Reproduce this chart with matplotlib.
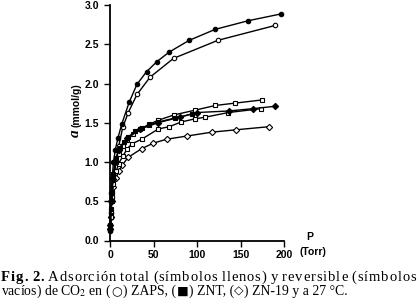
import matplotlib
matplotlib.use("Agg")
import matplotlib.pyplot as plt
from matplotlib.font_manager import FontProperties

# ---- data ----
zaps_tot_p = [0.3, 0.8, 1.5, 2.5, 4, 6, 9, 13.4, 22, 31, 42, 54, 68, 91, 121, 159, 196]
zaps_tot_a = [0.12, 0.35, 0.6, 0.8, 1.0, 1.15, 1.3, 1.48, 1.76, 1.99, 2.15, 2.28, 2.40, 2.55, 2.69, 2.80, 2.885]

zaps_rev_p = [0.5, 1, 2, 4, 7, 10, 14.6, 21, 31, 46, 73, 124, 190]
zaps_rev_a = [0.15, 0.3, 0.55, 0.8, 1.0, 1.2, 1.44, 1.63, 1.86, 2.08, 2.32, 2.55, 2.74]

znt_tot_p = [0.3, 1, 2, 4, 7, 11, 16, 21, 28.7, 36.4, 45, 55.5, 74.7, 94]
znt_tot_a = [0.15, 0.4, 0.62, 0.85, 1.05, 1.18, 1.26, 1.32, 1.39, 1.43, 1.47, 1.51, 1.56, 1.61]

znt_up_p = [0.5, 1, 2, 4, 7, 10, 15, 20, 27, 35, 45, 55, 73.6, 97.7, 121, 143.7, 174.4]
znt_up_a = [0.2, 0.38, 0.6, 0.82, 1.0, 1.1, 1.2, 1.28, 1.36, 1.42, 1.48, 1.53, 1.60, 1.66, 1.72, 1.75, 1.79]

znt_rev_p = [0.5, 1, 2, 4, 7, 10, 15, 20, 25, 36.4, 55.5, 68, 82, 97.7, 109, 136, 174]
znt_rev_a = [0.15, 0.3, 0.5, 0.72, 0.88, 0.98, 1.08, 1.17, 1.23, 1.29, 1.42, 1.45, 1.51, 1.55, 1.57, 1.63, 1.68]

zn19_tot_p = [0.5, 1.5, 3, 6, 10, 20, 35, 55, 80, 99.6, 136.8, 164.7, 190]
zn19_tot_a = [0.2, 0.5, 0.78, 1.0, 1.15, 1.3, 1.42, 1.5, 1.57, 1.63, 1.65, 1.68, 1.71]

zn19_rev_p = [0.5, 1, 2, 4, 7, 10, 14, 21, 36.4, 49.8, 65, 88, 117, 144.5, 183]
zn19_rev_a = [0.15, 0.3, 0.5, 0.68, 0.8, 0.88, 0.96, 1.06, 1.17, 1.24, 1.29, 1.33, 1.38, 1.41, 1.45]

x_ticks = [0, 50, 100, 150, 200]
y_ticks = [0.0, 0.5, 1.0, 1.5, 2.0, 2.5, 3.0]

caption_line1 = ["Fig.", "2.", "Adsorción", "total", "(símbolos", "llenos)", "y",
                 "reversible", "(símbolos"]
caption_line2 = [("vacíos) de CO$_2$ en (", 'serif'), ("○", 'sym'), (") ZAPS, (", 'serif'),
                 ("■", 'sym'), (") ZNT, (", 'serif'), ("◇", 'sym'),
                 (") ZN-19 y a 27 °C.", 'serif')]

plt.rcParams['mathtext.fontset'] = 'stix'

W, H = 419, 306
fig = plt.figure(figsize=(W / 100, H / 100), dpi=100)
ax = fig.add_axes([110 / W, 1 - 240.5 / H, 174 / W, 235.5 / H])

ms = 3.2
lw = 1.0
def plot(p, a, marker, filled):
    ax.plot(p, a, color='black', lw=lw, marker=marker, ms=ms,
            mfc='black' if filled else 'white', mec='black', mew=0.8,
            clip_on=False)

plot(zaps_rev_p, zaps_rev_a, 'o', False)
plot(zaps_tot_p, zaps_tot_a, 'o', True)
plot(zn19_rev_p, zn19_rev_a, 'D', False)
plot(znt_rev_p, znt_rev_a, 's', False)
plot(znt_up_p, znt_up_a, 's', False)
plot(zn19_tot_p, zn19_tot_a, 'D', True)
plot(znt_tot_p, znt_tot_a, 's', True)

ax.set_xlim(0, 200)
ax.set_ylim(0, 3.0)
ax.set_xticks(x_ticks)
ax.set_yticks(y_ticks)
ax.set_xticklabels([str(v) for v in x_ticks])
ax.set_yticklabels([f"{v:.1f}" for v in y_ticks])
for s in ['top', 'right']:
    ax.spines[s].set_visible(False)
for s in ['left', 'bottom']:
    ax.spines[s].set_linewidth(1.3)
ax.tick_params(direction='out', length=4, width=1.0, labelsize=7.5)
ax.tick_params(axis='x', pad=2.5)
ax.tick_params(axis='y', pad=4)
for lab in ax.get_xticklabels() + ax.get_yticklabels():
    lab.set_fontweight('bold')
    lab.set_family('Liberation Sans')

# y label: italic bold "a" + "(mmol/g)"
fig.text(76 / W, 1 - 105 / H, "(mmol/g)", rotation=90, ha='center', va='center',
         fontsize=7.5, fontweight='bold', family='Liberation Sans')
fig.text(75 / W, 1 - 133 / H, "a", rotation=90, ha='center', va='center',
         fontsize=11, fontweight='bold', style='italic', family='Liberation Serif')

# x label
fig.text(310 / W, 1 - 237 / H, "P", ha='center', va='center',
         fontsize=7.5, fontweight='bold', family='Liberation Sans')
fig.text(313 / W, 1 - 252 / H, "(Torr)", ha='center', va='center',
         fontsize=7.5, fontweight='bold', family='Liberation Sans')

# caption
fig.canvas.draw()
r = fig.canvas.get_renderer()
fs = 10.5
y1 = 1 - 281 / H
y2 = 1 - 295 / H

def twidth(s, prop):
    if not s:
        return 0.0
    w, h, d = r.get_text_width_height_descent(s, prop, ismath=False)
    return w

prop_b = FontProperties(family='Liberation Serif', weight='bold', size=fs)
prop_r = FontProperties(family='Liberation Serif', size=fs)

# line 1, justified between x=1 and x=416 px with letter spacing
left, right = 1.0, 416.0
space = 3.3
props = [prop_b if i < 2 else prop_r for i in range(len(caption_line1))]
ww = [twidth(w, p) for w, p in zip(caption_line1, props)]
base = sum(ww) + (len(caption_line1) - 1) * space
count = sum(len(w) - 1 for w in caption_line1) + (len(caption_line1) - 1)
ls = (right - left - base) / count
x = left
for w, p, wd in zip(caption_line1, props, ww):
    for k, ch in enumerate(w):
        px = x + twidth(w[:k], p) + k * ls
        fig.text(px / W, y1, ch, ha='left', va='baseline', fontproperties=p)
    x += wd + (len(w) - 1) * ls + space + ls

# line 2, sequence of segments
fs2 = 9.9
x = 1.0
sp2 = 3.3
for txt, kind in caption_line2:
    lead = txt.startswith(' ')
    trail = txt.endswith(' ')
    core = txt.strip(' ')
    if lead:
        x += sp2
    if kind == 'sym':
        t = fig.text(x / W, y2, core, ha='left', va='baseline', fontsize=fs2 * 0.9,
                     family='DejaVu Sans')
    else:
        t = fig.text(x / W, y2, core, ha='left', va='baseline', fontsize=fs2,
                     family='Liberation Serif')
    x += t.get_window_extent(r).width + 0.5
    if trail:
        x += sp2

fig.savefig("out.png", dpi=100)
